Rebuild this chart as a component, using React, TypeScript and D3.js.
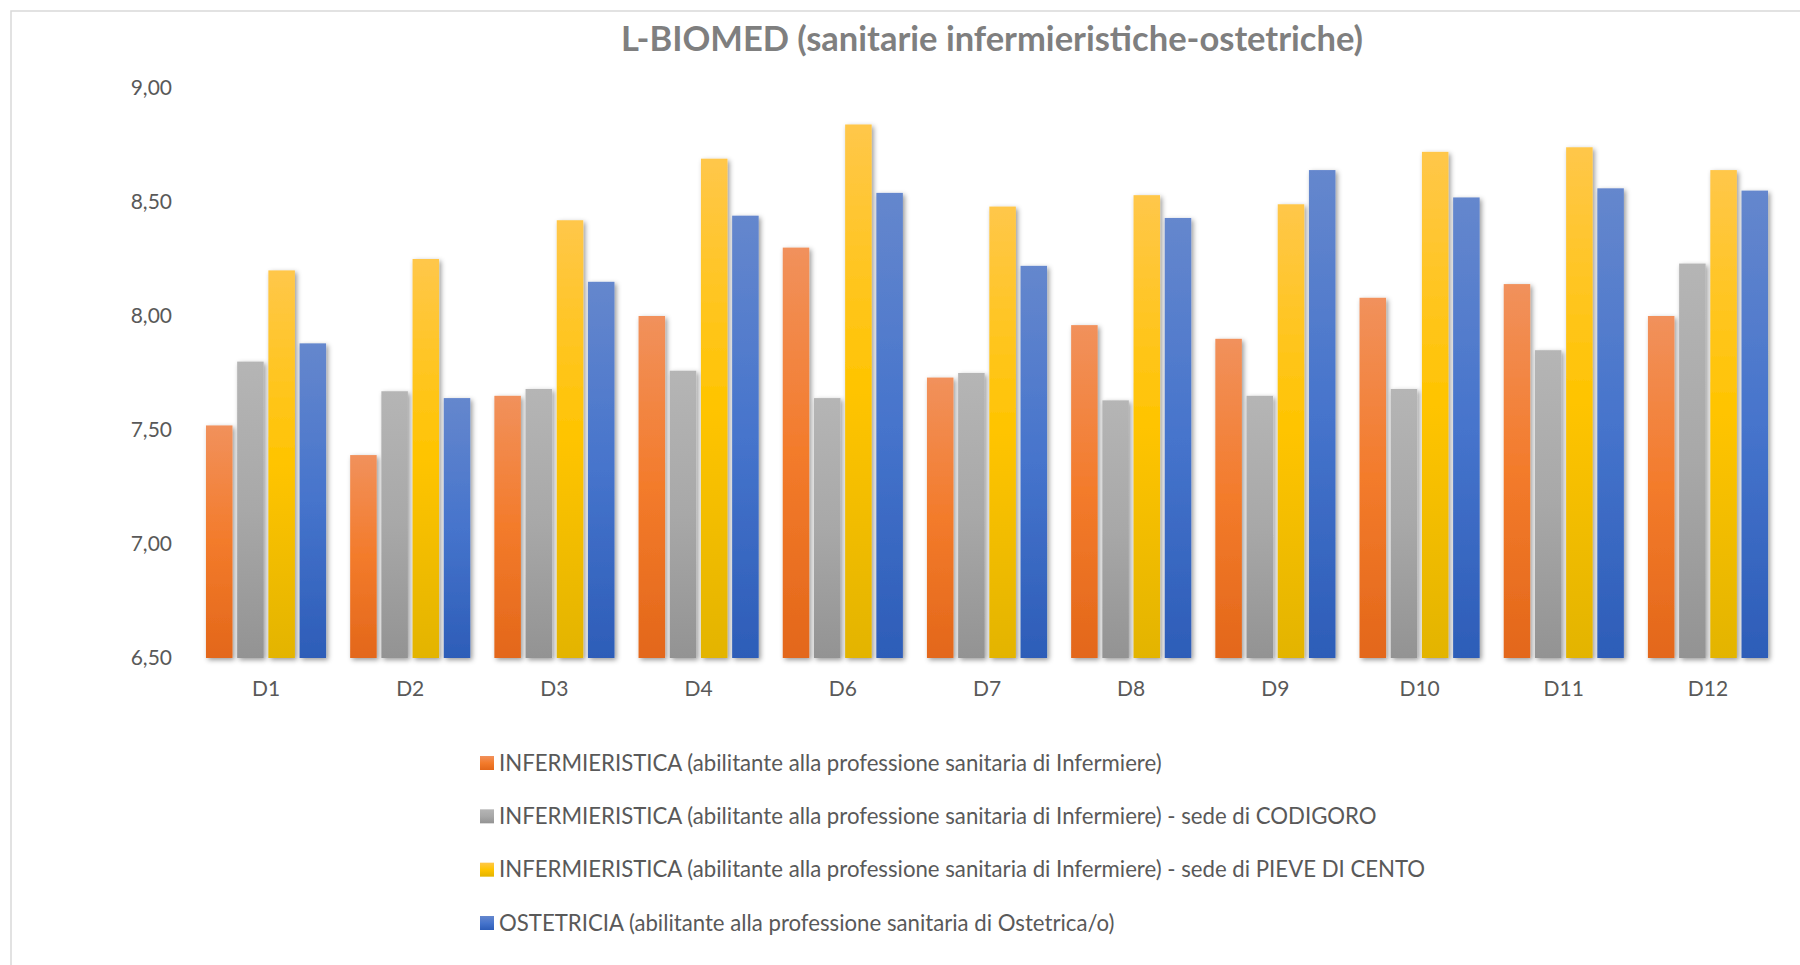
import { useEffect, useRef } from "react";
import * as d3 from "d3";

const WIDTH = 1800;
const HEIGHT = 965;

const TITLE = "L-BIOMED (sanitarie infermieristiche-ostetriche)";
const CATEGORIES = ["D1", "D2", "D3", "D4", "D6", "D7", "D8", "D9", "D10", "D11", "D12"];
const Y_TICKS = [6.5, 7, 7.5, 8, 8.5, 9];

const SERIES_NAMES = [
  "INFERMIERISTICA (abilitante alla professione sanitaria di Infermiere)",
  "INFERMIERISTICA (abilitante alla professione sanitaria di Infermiere) - sede di CODIGORO",
  "INFERMIERISTICA (abilitante alla professione sanitaria di Infermiere) - sede di PIEVE DI CENTO",
  "OSTETRICIA (abilitante alla professione sanitaria di Ostetrica/o)",
];

const INFERMIERISTICA = [7.52, 7.39, 7.65, 8.0, 8.3, 7.73, 7.96, 7.9, 8.08, 8.14, 8.0];
const CODIGORO = [7.8, 7.67, 7.68, 7.76, 7.64, 7.75, 7.63, 7.65, 7.68, 7.85, 8.23];
const PIEVE_DI_CENTO = [8.2, 8.25, 8.42, 8.69, 8.84, 8.48, 8.53, 8.49, 8.72, 8.74, 8.64];
const OSTETRICIA = [7.88, 7.64, 8.15, 8.44, 8.54, 8.22, 8.43, 8.64, 8.52, 8.56, 8.55];

const SERIES_VALUES = [INFERMIERISTICA, CODIGORO, PIEVE_DI_CENTO, OSTETRICIA];

// top / middle / bottom of the Office-style vertical gradient
const SERIES_GRADIENTS = [
  ["#f1915c", "#f37b2b", "#e3671a"],
  ["#b5b5b5", "#a8a8a8", "#939393"],
  ["#ffc74a", "#ffc400", "#e3b400"],
  ["#6587cd", "#4674cc", "#2d5db8"],
];

const FONT = "Lato, 'Open Sans', sans-serif";
const TEXT_FILL = "#595959";
const GRID_STROKE = "#d9d9d9";

const fmt = (d: number) => d.toFixed(2).replace(".", ",");

export default function App() {
  const ref = useRef<SVGSVGElement>(null);

  useEffect(() => {
    const el = ref.current;
    if (!el) return;
    const svg = d3.select(el);
    svg.selectAll("*").remove();

    const plot = { left: 194, right: 1780, top: 88, bottom: 658 };

    const x = d3
      .scaleBand<string>()
      .domain(CATEGORIES)
      .range([plot.left, plot.right])
      .paddingInner(0.167)
      .paddingOuter(0.083);

    const xInner = d3
      .scaleBand<number>()
      .domain(d3.range(SERIES_NAMES.length))
      .range([0, x.bandwidth()])
      .paddingInner(0.15);

    const y = d3.scaleLinear().domain([6.5, 9]).range([plot.bottom, plot.top]);

    const defs = svg.append("defs");

    SERIES_GRADIENTS.forEach((stops, i) => {
      const lg = defs
        .append("linearGradient")
        .attr("id", `grad-${i}`)
        .attr("x1", "0")
        .attr("x2", "0")
        .attr("y1", "0")
        .attr("y2", "1");
      lg.append("stop").attr("offset", "0%").attr("stop-color", stops[0]);
      lg.append("stop").attr("offset", "50%").attr("stop-color", stops[1]);
      lg.append("stop").attr("offset", "100%").attr("stop-color", stops[2]);
    });

    const shadow = defs
      .append("filter")
      .attr("id", "shadow")
      .attr("x", "-30%")
      .attr("y", "-10%")
      .attr("width", "160%")
      .attr("height", "120%");
    shadow
      .append("feDropShadow")
      .attr("dx", 2)
      .attr("dy", 2)
      .attr("stdDeviation", 2.5)
      .attr("flood-color", "#000")
      .attr("flood-opacity", 0.4);

    const lineShadow = defs
      .append("filter")
      .attr("id", "line-shadow")
      .attr("x", "-1%")
      .attr("y", "-200%")
      .attr("width", "102%")
      .attr("height", "500%");
    lineShadow
      .append("feDropShadow")
      .attr("dx", 1)
      .attr("dy", 1.5)
      .attr("stdDeviation", 1.2)
      .attr("flood-color", "#000")
      .attr("flood-opacity", 0.25);

    // background + chart border
    svg.append("rect").attr("width", WIDTH).attr("height", HEIGHT).attr("fill", "#fff");
    svg
      .append("rect")
      .attr("x", 11)
      .attr("y", 11)
      .attr("width", WIDTH)
      .attr("height", HEIGHT)
      .attr("fill", "none")
      .attr("stroke", GRID_STROKE)
      .attr("stroke-width", 1.5);

    svg
      .append("text")
      .attr("x", 992)
      .attr("y", 51)
      .attr("text-anchor", "middle")
      .attr("font-family", FONT)
      .attr("font-size", 34.5)
      .attr("font-weight", 700)
      .attr("fill", "#7f7f7f")
      .text(TITLE);

    // gridlines
    svg
      .append("g")
      .selectAll("line")
      .data(Y_TICKS)
      .join("line")
      .attr("x1", plot.left)
      .attr("x2", plot.right)
      .attr("y1", (d) => y(d))
      .attr("y2", (d) => y(d))
      .attr("stroke", GRID_STROKE)
      .attr("stroke-width", 2)
      .attr("filter", "url(#line-shadow)");

    svg
      .append("g")
      .selectAll("text")
      .data(Y_TICKS)
      .join("text")
      .attr("x", 172)
      .attr("y", (d) => y(d))
      .attr("dy", "0.35em")
      .attr("text-anchor", "end")
      .attr("font-family", FONT)
      .attr("font-size", 21)
      .attr("fill", TEXT_FILL)
      .text((d) => fmt(d));

    // bars
    const groups = svg
      .append("g")
      .selectAll("g")
      .data(CATEGORIES)
      .join("g")
      .attr("transform", (d) => `translate(${x(d)},0)`);

    groups
      .selectAll("rect")
      .data((_, ci) => SERIES_VALUES.map((vals, si) => ({ si, v: vals[ci] })))
      .join("rect")
      .attr("x", (d) => xInner(d.si)!)
      .attr("y", (d) => y(d.v))
      .attr("width", xInner.bandwidth())
      .attr("height", (d) => y(6.5) - y(d.v))
      .attr("fill", (d) => `url(#grad-${d.si})`)
      .attr("filter", "url(#shadow)");

    svg
      .append("g")
      .selectAll("text")
      .data(CATEGORIES)
      .join("text")
      .attr("x", (d) => x(d)! + x.bandwidth() / 2)
      .attr("y", 689)
      .attr("dy", "0.35em")
      .attr("text-anchor", "middle")
      .attr("font-family", FONT)
      .attr("font-size", 21)
      .attr("fill", TEXT_FILL)
      .text((d) => d);

    // legend
    const legendY = d3.scalePoint<number>().domain(d3.range(SERIES_NAMES.length)).range([763, 923]);
    const legend = svg
      .append("g")
      .selectAll("g")
      .data(SERIES_NAMES)
      .join("g")
      .attr("transform", (_, i) => `translate(480,${legendY(i)})`);

    legend
      .append("rect")
      .attr("x", 0)
      .attr("y", -7)
      .attr("width", 14)
      .attr("height", 14)
      .attr("fill", (_, i) => `url(#grad-${i})`);

    legend
      .append("text")
      .attr("x", 19)
      .attr("dy", "0.35em")
      .attr("font-family", FONT)
      .attr("font-size", 22.2)
      .attr("fill", TEXT_FILL)
      .text((d) => d);
  }, []);

  return (
    <svg
      ref={ref}
      width={WIDTH}
      height={HEIGHT}
      style={{ position: "absolute", left: 0, top: 0, display: "block" }}
    />
  );
}
